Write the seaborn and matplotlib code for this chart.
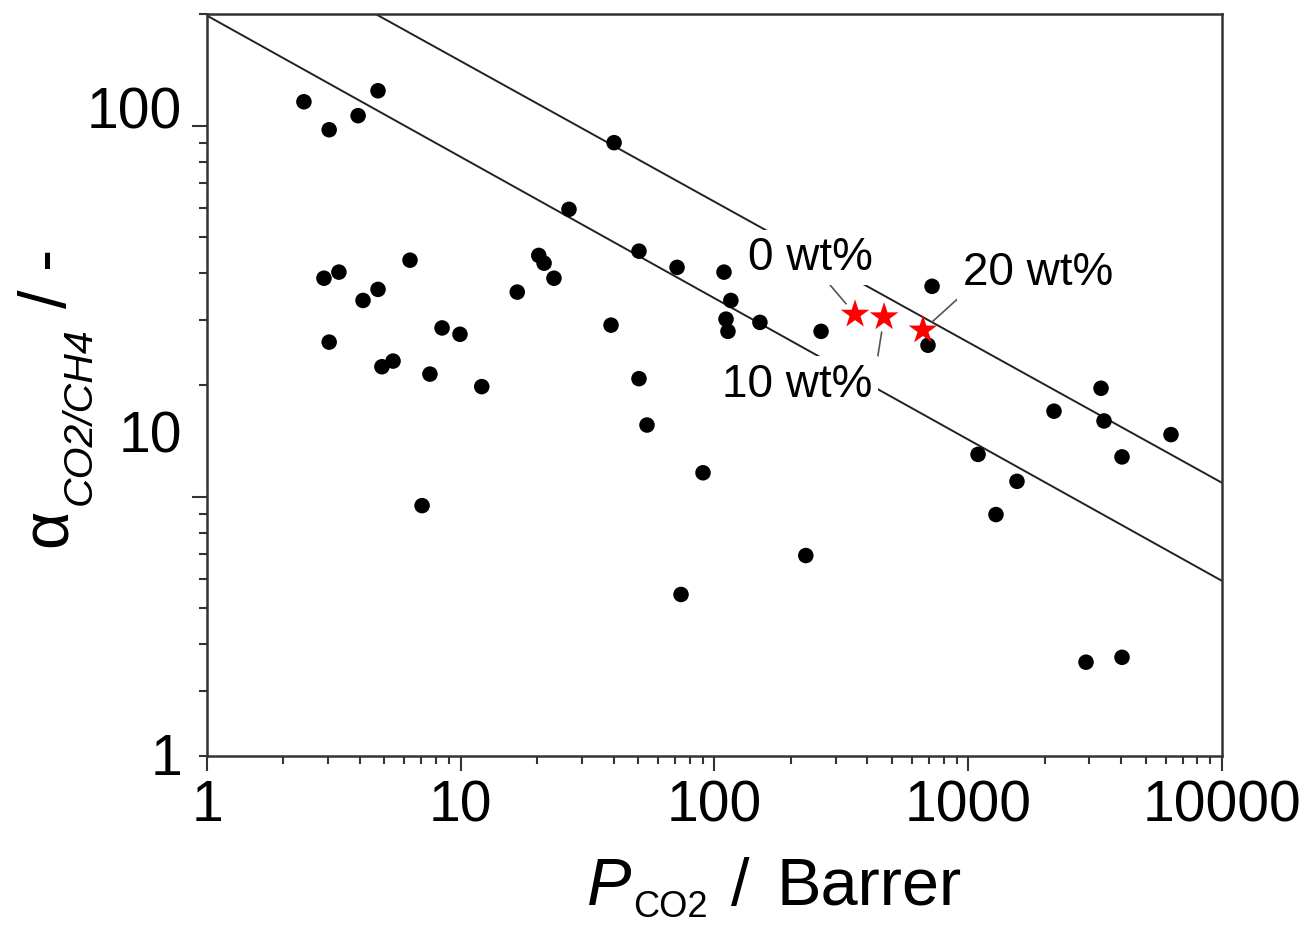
import matplotlib
matplotlib.use("Agg")
import matplotlib.pyplot as plt
import pandas as pd
import seaborn as sns
from matplotlib.ticker import NullLocator, NullFormatter, LogLocator

# Literature membranes: CO2 permeability (Barrer) and CO2/CH4 selectivity
perm_co2 = [2.41, 3.03, 3.94, 4.72, 40.2, 26.7, 50.4, 71.2, 20.3, 21.3, 23.3,
            2.89, 3.31, 6.31, 4.72, 4.12, 16.7, 39.1, 8.44, 9.93, 3.03, 5.41,
            4.89, 7.56, 12.1, 50.4, 109, 116, 111, 113, 151, 263, 720, 694,
            90.1, 3336, 2177, 3428, 6295, 4036, 1093, 1556, 1286, 54.2, 7.04,
            229, 73.8, 2911, 4036]
selectivity = [116.0, 97.5, 106.4, 124.2, 90.0, 59.5, 45.9, 41.5, 44.7, 42.6,
               38.8, 38.8, 40.3, 43.4, 36.2, 33.8, 35.6, 29.0, 28.5, 27.4, 26.1,
               23.2, 22.4, 21.4, 19.8, 20.8, 40.3, 33.8, 30.1, 27.9, 29.5, 27.9,
               36.9, 25.6, 11.6, 19.6, 17.0, 16.0, 14.7, 12.8, 13.0, 11.0, 8.95,
               15.6, 9.46, 6.94, 5.45, 3.58, 3.69]

# Mixed-matrix membranes of this work
loadings = ["0 wt%", "10 wt%", "20 wt%"]
mmm_perm = [358, 466, 663]
mmm_sel = [31.0, 30.5, 28.1]

# Robeson upper bounds (1991 and 2008), end points over the plotted range
bound_1991_perm = [1, 10000]
bound_1991_sel = [198, 5.93]
bound_2008_perm = [1, 10000]
bound_2008_sel = [357, 10.9]

# Axis ticks
x_ticks = [1, 10, 100, 1000, 10000]
x_tick_labels = ["1", "10", "100", "1000", "10000"]
y_ticks = [10, 100]
y_label_ticks = [1, 10, 100]
y_tick_labels = ["1", "10", "100"]

sns.set_style("ticks")
plt.rcParams["font.family"] = ["Liberation Sans", "DejaVu Sans"]
plt.rcParams["mathtext.fontset"] = "custom"
plt.rcParams["mathtext.rm"] = "Liberation Sans"
plt.rcParams["mathtext.it"] = "Liberation Sans:italic"
plt.rcParams["mathtext.bf"] = "Liberation Sans:bold"
plt.rcParams["text.color"] = "black"
plt.rcParams["xtick.labelcolor"] = "black"
plt.rcParams["ytick.labelcolor"] = "black"

W, H = 1311, 928
fig = plt.figure(figsize=(W / 100, H / 100), dpi=100)
ax = fig.add_axes([207 / W, 1 - 757 / H, 1015 / W, 742 / H])

lit = pd.DataFrame({"P": perm_co2, "alpha": selectivity})
mmm = pd.DataFrame({"P": mmm_perm, "alpha": mmm_sel, "loading": loadings})
b91 = pd.DataFrame({"P": bound_1991_perm, "alpha": bound_1991_sel})
b08 = pd.DataFrame({"P": bound_2008_perm, "alpha": bound_2008_sel})

line_col = "#222222"
for b in (b91, b08):
    sns.lineplot(data=b, x="P", y="alpha", ax=ax, color=line_col, lw=1.4,
                 sort=False, estimator=None, zorder=2)

sns.scatterplot(data=lit, x="P", y="alpha", ax=ax, color="black", s=125,
                edgecolor="none", zorder=3)
sns.scatterplot(data=mmm, x="P", y="alpha", ax=ax, color="#ff0000", marker="*",
                s=470, edgecolor="none", zorder=4)

ax.set_xscale("log")
ax.set_yscale("log")
ax.set_xlim(1, 10000)
ax.set_ylim(2, 200)
ax.set_xlabel("")
ax.set_ylabel("")

spine_col = "#333333"
for s in ax.spines.values():
    s.set_linewidth(1.8)
    s.set_color(spine_col)

ax.set_xticks(x_ticks, x_tick_labels)
ax.xaxis.set_minor_locator(LogLocator(base=10, subs=range(2, 10)))
ax.xaxis.set_minor_formatter(NullFormatter())
ax.set_yticks(y_ticks)
ax.yaxis.set_minor_locator(LogLocator(base=10, subs=range(2, 10)))
ax.tick_params(axis="both", which="major", direction="out", length=10.5,
               width=1.5, color=spine_col, labelcolor="black", labelsize=41,
               pad=5.5, top=False, right=False)
ax.tick_params(axis="both", which="minor", direction="out", length=5.5,
               width=1.5, color=spine_col, top=False, right=False)
ax.tick_params(axis="y", which="both", labelleft=False)

# Selectivity labels on their own log scale
lab = ax.twinx()
lab.set_yscale("log")
lab.set_ylim(0.98, 194)
lab.yaxis.set_ticks_position("left")
lab.set_yticks(y_label_ticks, y_tick_labels)
lab.yaxis.set_minor_locator(NullLocator())
lab.tick_params(axis="y", which="both", length=0, labelsize=41, pad=18,
                labelcolor="black", labelleft=True, labelright=False)
for s in lab.spines.values():
    s.set_visible(False)
lab.set_ylabel("")

# Labels for the mixed-matrix membranes
text_pos = [(0.5941, 0.6563), (0.5813, 0.4852), (0.8187, 0.6361)]
rel_pos = [(0.62, 0.0), (1.02, 0.77), (0.02, 0.06)]
shrink = [10, 11, 9]
for i, name in enumerate(loadings):
    ax.annotate(name, xy=(mmm_perm[i], mmm_sel[i]), xycoords="data",
                xytext=text_pos[i], textcoords="axes fraction",
                ha="center", va="baseline", fontsize=33, zorder=2.5,
                color="black",
                bbox=dict(boxstyle="square,pad=0.12", fc="white", ec="none"),
                arrowprops=dict(arrowstyle="-", color="#555555", lw=1.2,
                                shrinkA=0, shrinkB=shrink[i], relpos=rel_pos[i]))

# Axis titles, set piece by piece so the subscripts sit low
def fx(px):
    return px / W


def fy(py):
    return 1 - py / H


fig.text(fx(587), fy(905), "P", style="italic", fontsize=48,
         ha="left", va="baseline")
fig.text(fx(633), fy(917), "CO2", fontsize=26, ha="left", va="baseline")
fig.text(fx(731), fy(905), "/", fontsize=48, ha="left", va="baseline")
fig.text(fx(777), fy(905), "Barrer", fontsize=48, ha="left", va="baseline")

rot = dict(rotation=90, rotation_mode="anchor", ha="left", va="baseline")
fig.text(fx(67), fy(547), "α", fontsize=48, **rot)
fig.text(fx(91), fy(505), "CO2/CH4", style="italic", fontsize=29.5, **rot)
fig.text(fx(66), fy(308), "/ -", fontsize=48, **rot)

fig.savefig("out.png", dpi=100, facecolor="white")
